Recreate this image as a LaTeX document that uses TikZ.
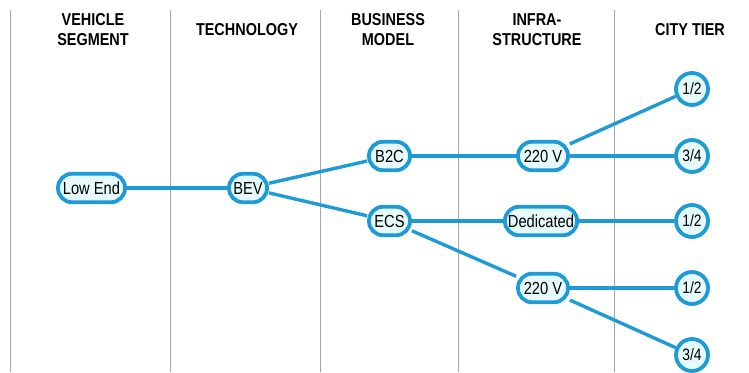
\documentclass[tikz,border=0pt]{standalone}
\usepackage{fontspec}
\setmainfont{Liberation Sans}
\newfontfamily\narrowfont[FakeStretch=0.84]{Liberation Sans}
\begin{document}
\begin{tikzpicture}[x=1pt,y=-1pt,
  every node/.style={font=\narrowfont\fontsize{17.5}{19}\selectfont},
  pill/.style={draw=linkblue,line width=3.8pt,fill=pillfill,rounded corners=14pt,minimum height=28.5pt,inner xsep=3pt,inner ysep=0pt},
  tier/.style={draw=linkblue,line width=3.8pt,fill=pillfill,circle,minimum size=32pt,inner sep=0pt,font=\narrowfont\fontsize{16.5}{18}\selectfont},
  link/.style={draw=linkblue,line width=3.4pt},
  sep/.style={draw=gray!70,line width=0.8pt},
  head/.style={font=\narrowfont\bfseries\fontsize{17.2}{20}\selectfont,align=center}]
\definecolor{linkblue}{RGB}{30,155,215}
\definecolor{pillfill}{RGB}{230,250,252}
\useasboundingbox (0,0) rectangle (749,372);
% separators
\foreach \xx/\nm in {10/s1,170/s2,320/s3,458/s4,614/s5}{
  \coordinate (\nm t) at (\xx,10);
  \coordinate (\nm b) at (\xx,372);
  \draw[sep] (\nm t) -- (\nm b);
}
% headers
\node[head] (h1) at (93,30) {VEHICLE\\SEGMENT};
\node[head] (h2) at (247,30) {TECHNOLOGY};
\node[head] (h3) at (388,30) {BUSINESS\\MODEL};
\node[head] (h4) at (537,30) {INFRA-\\STRUCTURE};
\node[head] (h5) at (690,30) {CITY TIER};
% nodes
\node[pill,minimum width=67pt] (low) at (91.5,188) {Low End};
\node[pill,minimum width=38pt] (bev) at (248,188) {BEV};
\node[pill,minimum width=41pt] (b2c) at (389.5,156) {B2C};
\node[pill,minimum width=41pt] (ecs) at (389.5,221) {ECS};
\node[pill,minimum width=50pt] (v1) at (543,156) {220 V};
\node[pill,minimum width=68pt] (ded) at (541,221) {Dedicated};
\node[pill,minimum width=50pt] (v2) at (543,288) {220 V};
\node[tier] (t1) at (692,89) {1/2};
\node[tier] (t2) at (692,156) {3/4};
\node[tier] (t3) at (692,221) {1/2};
\node[tier] (t4) at (692,288) {1/2};
\node[tier] (t5) at (692,355) {3/4};
% links
\draw[link] (low) -- (bev);
\draw[link] (bev) -- (b2c);
\draw[link] (bev) -- (ecs);
\draw[link] (b2c) -- (v1);
\draw[link] (ecs) -- (ded);
\draw[link] (ecs) -- (v2);
\draw[link] (v1) -- (t1);
\draw[link] (v1) -- (t2);
\draw[link] (ded) -- (t3);
\draw[link] (v2) -- (t4);
\draw[link] (v2) -- (t5);
\end{tikzpicture}
\end{document}
